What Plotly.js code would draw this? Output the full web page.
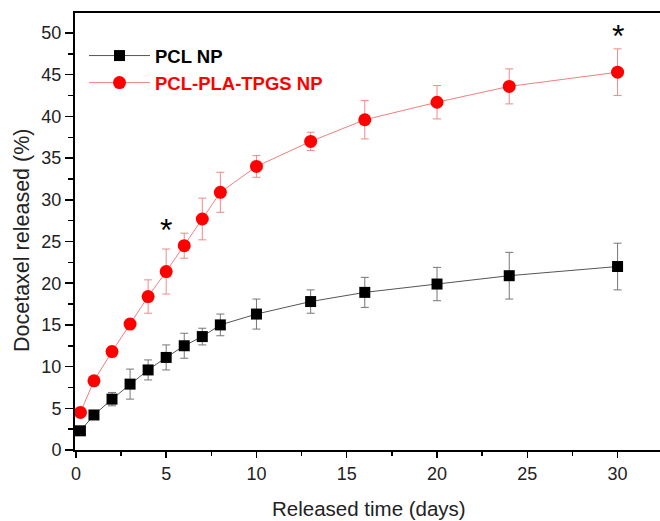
<!DOCTYPE html>
<html>
<head>
<meta charset="utf-8">
<script src="https://cdn.plot.ly/plotly-3.0.1.min.js"></script>
<style>
html,body{margin:0;padding:0;background:#fff;overflow:hidden;width:660px;height:521px;}
#chart{width:660px;height:521px;}
</style>
</head>
<body>
<div id="chart"></div>
<script>
// Released time (days)
const days = [0.25, 1, 2, 3, 4, 5, 6, 7, 8, 10, 13, 16, 20, 24, 30];
// PCL NP
const pclValues = [2.3, 4.2, 6.1, 7.9, 9.6, 11.1, 12.5, 13.6, 15.0, 16.3, 17.8, 18.9, 19.9, 20.9, 22.0];
const pclErrors = [0.2, 0.3, 0.8, 1.8, 1.2, 1.5, 1.5, 1.0, 1.3, 1.8, 1.4, 1.8, 2.0, 2.8, 2.8];
// PCL-PLA-TPGS NP
const tpgsValues = [4.5, 8.3, 11.8, 15.1, 18.4, 21.4, 24.5, 27.7, 30.9, 34.0, 37.0, 39.6, 41.7, 43.6, 45.3];
const tpgsErrors = [0.3, 0.3, 0.6, 0.4, 2.0, 2.7, 1.5, 2.5, 2.4, 1.3, 1.1, 2.3, 2.0, 2.1, 2.8];
// significance markers
const starX = [5, 30];
const starY = [26.4, 49.6];
// axis titles
const xTitle = 'Released time (days)';
const yTitle = 'Docetaxel released (%)';

const FONT = 'Liberation Sans, Arial, sans-serif';
const W = 660, H = 521, ML = 75, MT = 13, MB = 71;
const PW = W - ML, PH = H - MT - MB;

const traces = [
  {
    x: days, y: pclValues, type: 'scatter', mode: 'lines+markers',
    name: '<b>PCL NP</b>',
    line: {color: '#555555', width: 1},
    marker: {symbol: 'square', size: 11, color: '#000000'},
    error_y: {type: 'data', array: pclErrors, visible: true, color: '#777777', thickness: 1, width: 4}
  },
  {
    x: days, y: tpgsValues, type: 'scatter', mode: 'lines+markers',
    name: '<b><span style="color:#ff0000">PCL-PLA-TPGS NP</span></b>',
    line: {color: '#f08080', width: 1},
    marker: {symbol: 'circle', size: 13, color: '#ff0000'},
    error_y: {type: 'data', array: tpgsErrors, visible: true, color: '#f08a8a', thickness: 1, width: 4}
  }
];

const annotations = starX.map((x, i) => ({
  x: x, y: starY[i], xref: 'x', yref: 'y', text: '*', showarrow: false,
  font: {family: FONT, size: 32, color: '#000'}
}));
annotations.push({
  text: xTitle, xref: 'paper', yref: 'paper',
  x: (369 - ML) / PW, y: (MT + PH - 508) / PH, xanchor: 'center', yanchor: 'middle',
  showarrow: false, font: {family: FONT, size: 20.5, color: '#222'}
});
annotations.push({
  text: yTitle, xref: 'paper', yref: 'paper', textangle: -90,
  x: (22 - ML) / PW, y: (MT + PH - 241) / PH, xanchor: 'center', yanchor: 'middle',
  showarrow: false, font: {family: FONT, size: 21.5, color: '#222'}
});

const layout = {
  width: W, height: H,
  margin: {l: ML, r: 0, t: MT, b: MB},
  paper_bgcolor: '#fff', plot_bgcolor: '#fff',
  font: {family: FONT, color: '#222'},
  showlegend: true,
  legend: {x: 9 / PW, y: 0.945, xanchor: 'left', yanchor: 'top', bgcolor: 'rgba(0,0,0,0)',
           font: {size: 18.5, color: '#000'}, itemwidth: 61, tracegroupgap: 0},
  xaxis: {
    range: [-0.05, 32.35], showgrid: false, zeroline: false,
    showline: true, linecolor: '#000', linewidth: 2, mirror: true,
    ticks: 'outside', ticklen: 6, tickwidth: 1.5, tickcolor: '#000', dtick: 5, tick0: 0,
    minor: {ticks: 'outside', ticklen: 4, tickwidth: 1.5, tickcolor: '#000', dtick: 2.5, showgrid: false},
    tickfont: {size: 18, color: '#222'}
  },
  yaxis: {
    range: [0, 52.4], showgrid: false, zeroline: false,
    showline: true, linecolor: '#000', linewidth: 2, mirror: false,
    ticks: 'outside', ticklen: 8, tickwidth: 1.5, tickcolor: '#000', dtick: 5, tick0: 0,
    minor: {ticks: 'outside', ticklen: 5, tickwidth: 1.5, tickcolor: '#000', dtick: 2.5, showgrid: false},
    tickfont: {size: 18, color: '#222'}
  },
  annotations: annotations
};

Plotly.newPlot('chart', traces, layout, {displayModeBar: false, staticPlot: true});
</script>
</body>
</html>
